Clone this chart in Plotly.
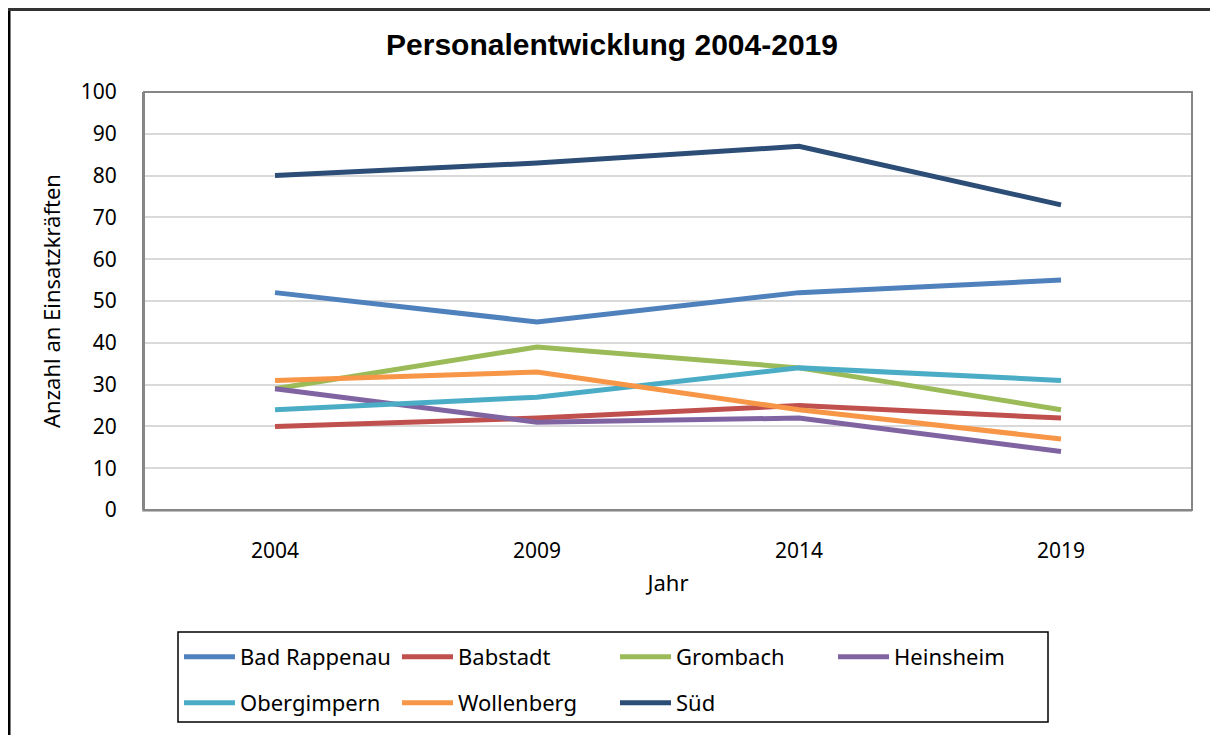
import plotly.graph_objects as go

years = ["2004", "2009", "2014", "2019"]
series_names = ["Bad Rappenau", "Babstadt", "Grombach", "Heinsheim",
                "Obergimpern", "Wollenberg", "Süd"]
bad_rappenau = [52, 45, 52, 55]
babstadt = [20, 22, 25, 22]
grombach = [29, 39, 34, 24]
heinsheim = [29, 21, 22, 14]
obergimpern = [24, 27, 34, 31]
wollenberg = [31, 33, 24, 17]
sued = [80, 83, 87, 73]
y_ticks = [0, 10, 20, 30, 40, 50, 60, 70, 80, 90, 100]

values = [bad_rappenau, babstadt, grombach, heinsheim, obergimpern, wollenberg, sued]
colors = ["#4F81BD", "#C0504D", "#9BBB59", "#8064A2", "#4BACC6", "#F79646", "#2C4D75"]
legend_rows = ["legend", "legend", "legend", "legend", "legend2", "legend2", "legend2"]

# page has an 8px body margin; figure is offset by (8, 8)
OFF = 8
W, H = 1218 - OFF, 735 - OFF
PL, PR, PT, PB = 144, 1192, 92, 510  # plot area in page pixels
L, T = PL - OFF, PT - OFF
R, B = W - (PR - OFF), H - (PB - OFF)
pw, ph = PR - PL, PB - PT


def px_x(x):
    return (x - PL) / pw


def px_y(y):
    return (PB - y) / ph


fig = go.Figure()
for name, vals, col, lg in zip(series_names, values, colors, legend_rows):
    fig.add_trace(go.Scatter(x=years, y=vals, name=name, mode="lines",
                             line=dict(color=col, width=5), legend=lg))

FONT = "Noto Sans, Open Sans, sans-serif"
tick_font = dict(family=FONT, size=21, color="#000000")
title_font = dict(family=FONT, size=22, color="#000000")
leg_font = dict(family=FONT, size=22, color="#000000")

leg_common = dict(orientation="h", xanchor="left", yanchor="middle",
                  font=leg_font, bgcolor="rgba(0,0,0,0)", borderwidth=0,
                  itemwidth=51,
                  entrywidth=152, entrywidthmode="pixels", traceorder="normal")

fig.update_layout(
    width=W, height=H,
    margin=dict(l=L, r=R, t=T, b=B, autoexpand=False),
    paper_bgcolor="white", plot_bgcolor="white",
    title=dict(text="<b>Personalentwicklung 2004-2019</b>",
               font=dict(family="Liberation Sans, Arial, sans-serif", size=30, color="#000000"),
               x=(612 - OFF) / W, xanchor="center", y=1 - (44 - OFF) / H, yanchor="middle"),
    showlegend=True,
    legend=dict(x=px_x(179), y=px_y(657), **leg_common),
    legend2=dict(x=px_x(179), y=px_y(703), **leg_common),
    xaxis=dict(type="category", range=[-0.5, 3.5], showgrid=False,
               showline=True, linecolor="#BFBFBF", linewidth=2,
               ticks="", tickfont=tick_font, ticklabelstandoff=21,
               title=dict(text="Jahr", font=title_font, standoff=12),
               zeroline=False),
    yaxis=dict(range=[0, 100], tickvals=y_ticks, showgrid=True, gridcolor="#D9D9D9",
               gridwidth=1.5, showline=True, linecolor="#868686", linewidth=2,
               ticks="", tickfont=tick_font, ticklabelstandoff=21,
               title=dict(text="Anzahl an Einsatzkräften", font=title_font, standoff=14),
               zeroline=False),
    shapes=[
        # plot area frame
        dict(type="rect", xref="paper", yref="paper", x0=0, x1=1, y0=0, y1=1,
             line=dict(color="#868686", width=2), layer="above"),
        # legend box
        dict(type="rect", xref="paper", yref="paper",
             x0=px_x(178), x1=px_x(1048), y0=px_y(632), y1=px_y(722),
             line=dict(color="#000000", width=1.5), layer="below"),
        # outer chart frame (left and top edges visible)
        dict(type="line", xref="paper", yref="paper", x0=px_x(9), x1=px_x(9),
             y0=px_y(8), y1=px_y(760), line=dict(color="#000000", width=3)),
        dict(type="line", xref="paper", yref="paper", x0=px_x(8), x1=px_x(1240),
             y0=px_y(9.5), y1=px_y(9.5), line=dict(color="#333333", width=3)),
    ],
)

fig.write_html("out.html")
